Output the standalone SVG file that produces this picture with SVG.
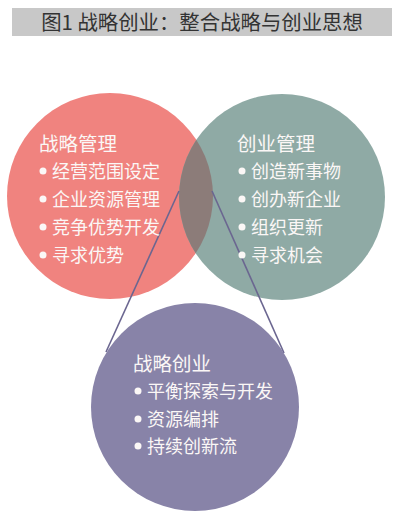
<svg xmlns="http://www.w3.org/2000/svg" width="407" height="521" viewBox="0 0 407 521">
<defs>
<style>
.t{font-family:"Noto Sans CJK SC","Microsoft YaHei",sans-serif;fill:#fbf7f6}
.h{font-size:19.5px}
.i{font-size:18px}
.b{fill:#fbf7f6}
.ln{stroke:#6b6690;stroke-width:1.6;fill:none}
</style>
<clipPath id="cr"><circle cx="110" cy="196" r="103"/></clipPath>
</defs>
<rect width="407" height="521" fill="#ffffff"/>
<g id="title">
<rect x="12" y="8" width="380" height="28" fill="#c8c8c8"/>
<text x="202" y="30" text-anchor="middle" font-family="Noto Sans CJK SC,sans-serif" font-size="20.4" fill="#333333">图1 战略创业：整合战略与创业思想</text>
</g>
<g id="strategy">
<circle cx="110" cy="196" r="103" fill="#f0837f"/>
</g>
<g id="entrepreneurship">
<circle cx="282" cy="197" r="103" fill="#8faaa5"/>
</g>
<g id="overlap">
<circle cx="282" cy="197" r="103" fill="#8c7c79" clip-path="url(#cr)"/>
</g>
<g id="connectors">
<line class="ln" x1="179" y1="191" x2="106" y2="352"/>
<line class="ln" x1="212" y1="191" x2="284" y2="353"/>
</g>
<g id="strategic-entrepreneurship">
<circle cx="195" cy="407" r="104" fill="#8883a8"/>
</g>
<g id="strategy-text">
<text class="t h" x="39" y="151">战略管理</text>
<circle class="b" cx="43" cy="171" r="3.5"/>
<text class="t i" x="52" y="178">经营范围设定</text>
<circle class="b" cx="43" cy="199" r="3.5"/>
<text class="t i" x="52" y="206">企业资源管理</text>
<circle class="b" cx="43" cy="227" r="3.5"/>
<text class="t i" x="52" y="234">竞争优势开发</text>
<circle class="b" cx="43" cy="255" r="3.5"/>
<text class="t i" x="52" y="262">寻求优势</text>
</g>
<g id="entrepreneurship-text">
<text class="t h" x="237" y="151">创业管理</text>
<circle class="b" cx="242" cy="171" r="3.5"/>
<text class="t i" x="251" y="178">创造新事物</text>
<circle class="b" cx="242" cy="199" r="3.5"/>
<text class="t i" x="251" y="206">创办新企业</text>
<circle class="b" cx="242" cy="227" r="3.5"/>
<text class="t i" x="251" y="234">组织更新</text>
<circle class="b" cx="242" cy="255" r="3.5"/>
<text class="t i" x="251" y="262">寻求机会</text>
</g>
<g id="se-text">
<text class="t h" x="133" y="371">战略创业</text>
<circle class="b" cx="138" cy="391" r="3.5"/>
<text class="t i" x="147" y="398">平衡探索与开发</text>
<circle class="b" cx="138" cy="419" r="3.5"/>
<text class="t i" x="147" y="426">资源编排</text>
<circle class="b" cx="138" cy="446" r="3.5"/>
<text class="t i" x="147" y="453">持续创新流</text>
</g>
</svg>
